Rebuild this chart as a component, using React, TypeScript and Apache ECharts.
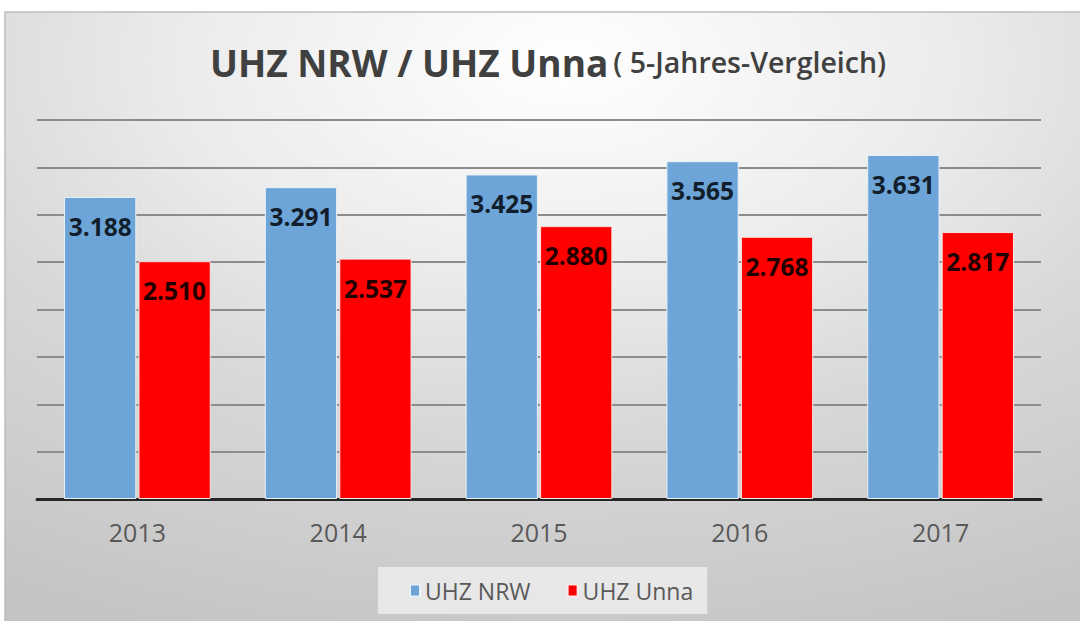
import React, { useEffect, useRef } from "react";
import * as echarts from "echarts";

const years = ["2013", "2014", "2015", "2016", "2017"];
const nrwValues = [3.188, 3.291, 3.425, 3.565, 3.631];
const unnaValues = [2.51, 2.537, 2.88, 2.768, 2.817];
const seriesNames = ["UHZ NRW", "UHZ Unna"];
const titleMain = "UHZ NRW / UHZ Unna";
const titleSub = "( 5-Jahres-Vergleich)";

const FONT = "'Open Sans', 'DejaVu Sans', sans-serif";

export default function App() {
  const ref = useRef<HTMLDivElement>(null);
  useEffect(() => {
    if (!ref.current) return;
    const chart = echarts.init(ref.current, null, { renderer: "svg" });
    const fmt = (p: any) => Number(p.value).toFixed(3);
    chart.setOption({
      animation: false,
      graphic: [
        {
          type: "rect",
          z: -10,
          silent: true,
          shape: { x: 5, y: 12, width: 1080, height: 615 },
          style: {
            fill: {
              type: "radial",
              x: 0.52,
              y: 0.08,
              r: 1,
              colorStops: [
                { offset: 0, color: "#ffffff" },
                { offset: 0.35, color: "#ececec" },
                { offset: 0.6, color: "#d8d8d8" },
                { offset: 1, color: "#c4c4c4" },
              ],
            },
            stroke: "#bdbdbd",
            lineWidth: 1.5,
          },
        },
      ],
      title: {
        left: 543,
        textAlign: "center",
        top: 33,
        text: `{a|${titleMain}} {b|${titleSub}}`,
        textStyle: {
          rich: {
            a: {
              fontFamily: FONT,
              fontSize: 37,
              fontWeight: "bold",
              color: "#404040",
              lineHeight: 48,
            },
            b: {
              fontFamily: FONT,
              fontSize: 28.5,
              fontWeight: 600,
              color: "#404040",
              lineHeight: 48,
            },
          },
        },
      },
      legend: {
        data: seriesNames,
        left: 378,
        top: 567,
        padding: [12, 14, 12, 31],
        backgroundColor: "rgba(236,236,236,0.85)",
        itemWidth: 10,
        itemHeight: 12,
        itemGap: 36,
        icon: "rect",
        textStyle: { fontFamily: FONT, fontSize: 23, color: "#595959" },
      },
      grid: { left: 37, right: 39, top: 120, bottom: 122, containLabel: false },
      xAxis: {
        type: "category",
        data: years,
        axisLine: { lineStyle: { color: "#262626", width: 3 } },
        axisTick: { show: false },
        axisLabel: {
          fontFamily: FONT,
          fontSize: 25,
          color: "#595959",
          margin: 20,
        },
      },
      yAxis: {
        type: "value",
        min: 0,
        max: 4,
        interval: 0.5,
        axisLabel: { show: false },
        axisLine: { show: false },
        axisTick: { show: false },
        splitLine: { lineStyle: { color: "#8c8c8c", width: 2 } },
      },
      series: [
        {
          name: seriesNames[0],
          type: "bar",
          data: nrwValues,
          barWidth: "36%",
          barGap: "3%",
          itemStyle: { color: "#6ea5d8", borderColor: "#e8f0f8", borderWidth: 1 },
          label: {
            show: true,
            position: "insideTop",
            distance: 17,
            formatter: fmt,
            fontFamily: FONT,
            fontSize: 24.5,
            fontWeight: "bold",
            color: "#121e2c",
          },
        },
        {
          name: seriesNames[1],
          type: "bar",
          data: unnaValues,
          barWidth: "36%",
          barGap: "3%",
          itemStyle: { color: "#ff0000", borderColor: "#f8e8e8", borderWidth: 1 },
          label: {
            show: true,
            position: "insideTop",
            distance: 17,
            formatter: fmt,
            fontFamily: FONT,
            fontSize: 24.5,
            fontWeight: "bold",
            color: "#220000",
          },
        },
      ],
    });
    return () => chart.dispose();
  }, []);
  return (
    <div
      ref={ref}
      style={{ position: "absolute", left: 0, top: 0, width: 1080, height: 621 }}
    />
  );
}
